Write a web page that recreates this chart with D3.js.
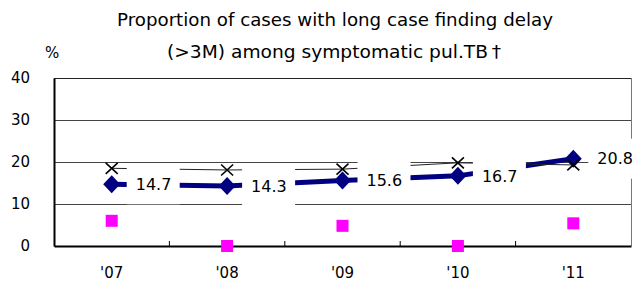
<!DOCTYPE html>
<html><head><meta charset="utf-8">
<script src="https://cdn.jsdelivr.net/npm/d3@7"></script>
<style>body{margin:0;background:#fff}svg{display:block}text{font-family:"DejaVu Sans",Verdana,sans-serif;fill:#000}</style>
</head><body>
<script>
const years = ["'07","'08","'09","'10","'11"];
const delayPct = [14.7,14.3,15.6,16.7,20.8];
const crossSeries = [18.5,18.1,18.3,19.8,19.3];
const squareSeries = [6.0,0,4.8,0,5.4];
const yTicks = [0,10,20,30,40];
const titleLines = ["Proportion of cases with long case finding delay","(>3M) among symptomatic pul.TB\u2009\u2020"];

const W=637,H=292;
const svg=d3.select("body").append("svg").attr("width",W).attr("height",H);
const x=d3.scaleBand().domain(years).range([54,631]).padding(0);
const y=d3.scaleLinear().domain([0,40]).range([246,78]);
const cx=d=>x(d)+x.bandwidth()/2;

// gridlines
svg.append("g").selectAll("line").data(yTicks.filter(t=>t>0)).join("line")
  .attr("x1",54).attr("x2",631).attr("y1",d=>y(d)+0.5).attr("y2",d=>y(d)+0.5)
  .attr("stroke",d=>d===40?"#222":"#444").attr("stroke-width",1);
// right border
svg.append("line").attr("x1",631.5).attr("x2",631.5).attr("y1",78).attr("y2",246).attr("stroke","#777");

// y axis
const ya=svg.append("g").attr("transform","translate(54,0)").call(d3.axisLeft(y).tickValues(yTicks).tickSize(0).tickPadding(24));
ya.select(".domain").attr("stroke","#000").attr("stroke-width",2);
ya.selectAll("text").attr("font-size",15).style("font-family","DejaVu Sans");
// x axis
const xa=svg.append("g").attr("transform","translate(0,246)").call(d3.axisBottom(x).tickSize(0).tickPadding(21));
xa.select(".domain").attr("stroke","#000").attr("stroke-width",2);
xa.selectAll("text").attr("font-size",15).style("font-family","DejaVu Sans");
// inner tick marks at band boundaries
svg.append("g").selectAll("line").data(years.slice(1)).join("line")
  .attr("x1",d=>x(d)).attr("x2",d=>x(d)).attr("y1",246).attr("y2",241).attr("stroke","#000").attr("stroke-width",1);

// navy line
const navyLine=d3.line().x((d,i)=>cx(years[i])).y(d=>y(d));
svg.append("path").datum(delayPct).attr("d",navyLine).attr("fill","none").attr("stroke","#000080").attr("stroke-width",5);
svg.append("g").selectAll("path").data(delayPct).join("path")
  .attr("d",(d,i)=>{const X=cx(years[i]),Y=y(d);return `M${X},${Y-9}L${X+8.5},${Y}L${X},${Y+9}L${X-8.5},${Y}Z`;})
  .attr("fill","#000080");

// magenta squares
svg.append("g").selectAll("rect").data(squareSeries).join("rect")
  .attr("x",(d,i)=>cx(years[i])-6).attr("y",d=>y(d)-6).attr("width",12).attr("height",12).attr("fill","#ff00ff");

// cross series
svg.append("path").datum(crossSeries).attr("d",navyLine).attr("fill","none").attr("stroke","#222").attr("stroke-width",1);
svg.append("g").selectAll("path").data(crossSeries).join("path")
  .attr("d",(d,i)=>{const X=cx(years[i]),Y=y(d);return `M${X-6},${Y-5.5}L${X+6},${Y+5.5}M${X-6},${Y+5.5}L${X+6},${Y-5.5}`;})
  .attr("stroke","#000").attr("stroke-width",1.6).attr("fill","none");

// data labels with white boxes
const lg=svg.append("g").selectAll("g").data(delayPct).join("g")
  .attr("transform",(d,i)=>`translate(${cx(years[i])+15},${y(d)})`);
lg.append("rect").attr("x",0).attr("y",-20).attr("width",53).attr("height",40).attr("fill","#fff");
lg.append("text").attr("x",9).attr("dy","0.36em").attr("font-size",16).text(d=>d.toFixed(1));

// titles
svg.append("text").attr("x",117).attr("y",26).attr("font-size",18)
  .attr("textLength",436).attr("lengthAdjust","spacingAndGlyphs").text(titleLines[0]);
svg.append("text").attr("x",167).attr("y",58).attr("font-size",18)
  .attr("textLength",334).attr("lengthAdjust","spacingAndGlyphs").text(titleLines[1]);
svg.append("text").attr("x",45).attr("y",58).attr("font-size",15).text("%");
</script>
</body></html>
